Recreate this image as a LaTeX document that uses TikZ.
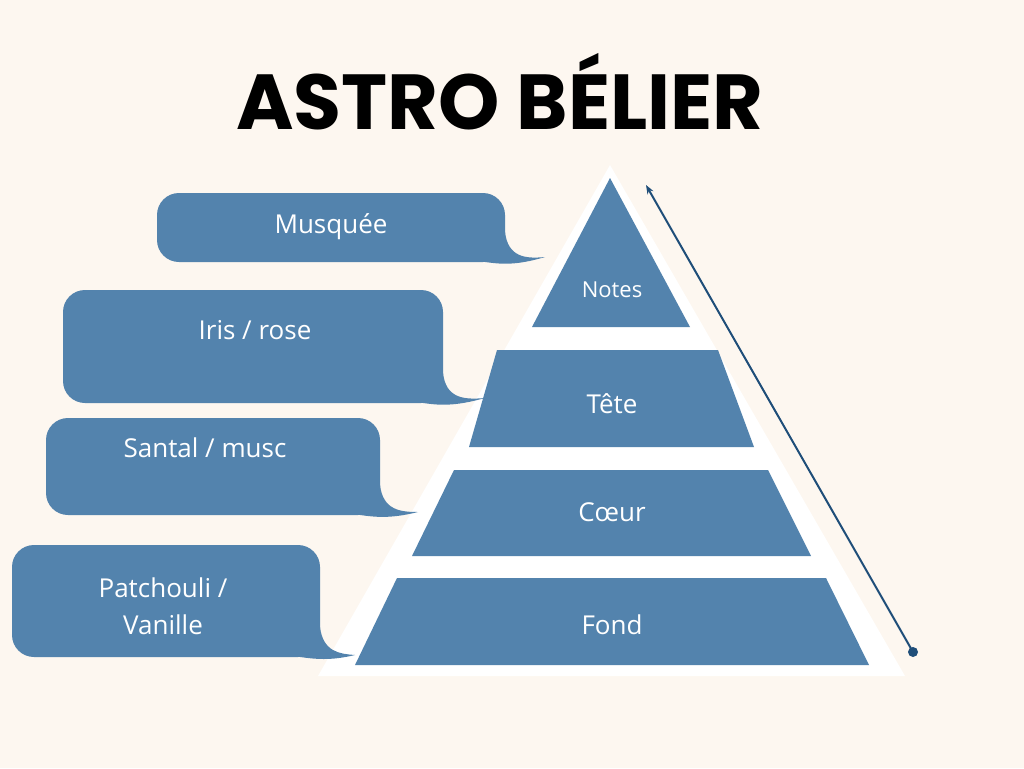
\documentclass[tikz,border=0pt]{standalone}
\usepackage{fontspec}
\usetikzlibrary{arrows.meta}
\setmainfont{Open Sans}
\newfontfamily\titlefont{Poppins}
\definecolor{bg}{HTML}{FDF7F0}
\definecolor{tier}{HTML}{5383AD}
\definecolor{arr}{HTML}{1F4E79}
\begin{document}
\begin{tikzpicture}[x=1pt,y=-1pt,
  lbl/.style={text=white,font=\fontsize{26}{32}\selectfont,align=center},
  tierfill/.style={fill=tier}]
\fill[bg] (0,0) rectangle (1024,768);
\useasboundingbox (0,0) rectangle (1024,768);
\node[font=\titlefont\bfseries\fontsize{78}{80}\selectfont] (title) at (500,92) {ASTRO BÉLIER};
\fill[white] (610,165) -- (905,676) -- (318,676) -- cycle;
\fill[tierfill] (610,178) -- (690,327) -- (532,327) -- cycle;
\fill[tierfill] (497,350) -- (718,350) -- (754,447) -- (469,447) -- cycle;
\fill[tierfill] (454,470) -- (768,470) -- (811,556) -- (412,556) -- cycle;
\fill[tierfill] (397,578) -- (826,578) -- (869,665) -- (355,665) -- cycle;
\node[lbl,font=\fontsize{22}{26}\selectfont] (notes) at (612,290) {Notes};
\node[lbl] (tete) at (612,404) {Tête};
\node[lbl] (coeur) at (612,512) {Cœur};
\node[lbl] (fond) at (612,625) {Fond};
\coordinate (a0) at (913,652);
\coordinate (a1) at (646,185);
\fill[arr] (a0) circle (5);
\draw[arr,line width=2pt,-{Stealth[length=9pt]}] (a0) -- (a1);
% bubbles
\foreach \xa/\ya/\xb/\yb/\tx/\ty in {157/193/505/262/545/257, 63/290/443/403/485/398, 46/418/380/515/418/512, 12/545/320/657/355/655}{
  \fill[tier,rounded corners=22pt] (\xa,\ya) rectangle (\xb,\yb);
  \fill[tier] (\xb-10,\yb-30) -- (\xb,\yb-30) .. controls (\xb+3,\yb-5) and (\xb+20,\yb-3) .. (\tx,\ty) .. controls (\xb+10,\yb+4) and (\xb-5,\yb+2) .. (\xb-20,\yb) -- cycle;
}
\node[lbl] (b1) at (331,227) {Musquée};
\node[lbl] (b2) at (255,330) {Iris / rose};
\node[lbl] (b3) at (205,448) {Santal / musc};
\node[lbl,font=\fontsize{26}{37}\selectfont] (b4) at (163,606) {Patchouli /\\Vanille};
\end{tikzpicture}
\end{document}
